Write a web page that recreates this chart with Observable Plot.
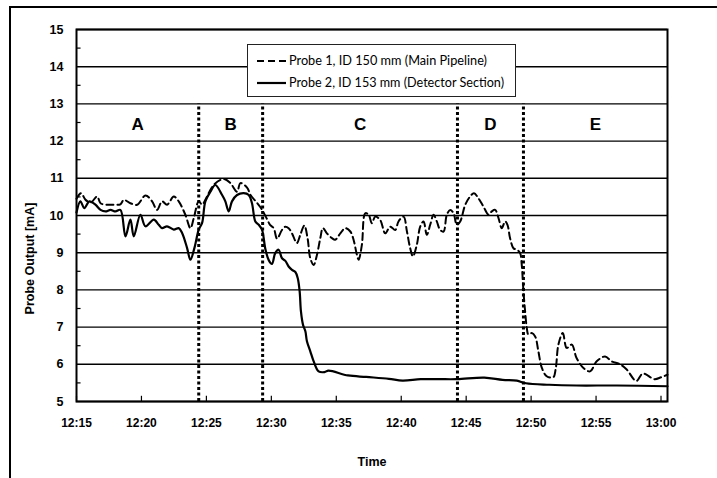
<!DOCTYPE html>
<html>
<head>
<meta charset="utf-8">
<script src="https://cdn.jsdelivr.net/npm/d3@7"></script>
<script src="https://cdn.jsdelivr.net/npm/@observablehq/plot@0.6"></script>
<style>
  html, body { margin: 0; padding: 0; background: #fff; overflow: hidden; }
  #wrap { position: relative; width: 717px; height: 478px; }
  #outer { position: absolute; left: 9px; top: 6px; width: 800px; height: 600px;
           border-top: 2.5px solid #000; border-left: 2.5px solid #000; pointer-events: none; }
  #legend { position: absolute; left: 247px; top: 44px; width: 267px; height: 51px;
            border: 1px solid #222; background: #fff; }
  #legend text { font-family: Lato, "Open Sans", "Liberation Sans", sans-serif; font-size: 12.5px; fill: #000; }
  #chart svg text { font-family: "Liberation Sans", Arial, sans-serif; }
</style>
</head>
<body>
<div id="wrap">
  <div id="chart"></div>
  <div id="outer"></div>
  <div id="legend"></div>
</div>
<script>
// ---- data (minutes after 12:15, probe output in mA) ----
const seriesNames = ["Probe 1, ID 150 mm (Main Pipeline)", "Probe 2, ID 153 mm (Detector Section)"];

const probe1Minutes = [0,0.35,0.7,1.1,1.59,1.85,2.36,2.87,3.38,3.64,4.15,4.67,5.31,5.82,6.2,6.59,6.97,7.49,7.87,8.38,8.77,9.03,9.41,9.67,9.92,10.56,11.33,11.85,12.36,12.62,13.13,13.4,13.8,14.2,14.6,14.9,15.18,15.44,15.82,16.08,16.33,16.59,16.97,17.23,17.54,17.79,18.0,18.26,18.51,18.77,18.97,19.28,19.67,19.92,20.31,20.69,21.08,21.33,21.59,21.72,21.97,22.23,22.49,22.74,23.0,23.38,23.77,24.15,24.54,24.79,25.18,25.44,25.69,25.9,26.2,26.46,26.72,26.97,27.23,27.49,27.74,28.0,28.26,28.51,28.77,29.03,29.28,29.54,29.92,30.3,30.6,30.95,31.33,31.72,31.97,32.23,32.49,32.74,33.0,33.18,33.38,33.64,33.9,34.15,34.28,34.41,34.54,34.67,34.79,35.05,35.31,35.56,35.82,36.2,36.7,36.9,37.1,37.44,37.74,38.13,38.5,39.03,39.54,40.05,40.69,41.2,41.85,42.36,43.1,43.6,44.5,45.0,45.5];
const probe1Values  = [10.45,10.6,10.42,10.35,10.51,10.33,10.29,10.29,10.3,10.42,10.33,10.29,10.54,10.38,10.15,10.38,10.29,10.51,10.38,10.02,9.66,9.93,10.38,10.29,10.42,10.82,10.98,10.87,10.64,10.87,10.75,10.55,10.38,10.2,9.95,9.75,9.66,9.38,9.61,9.7,9.66,9.52,9.26,9.48,9.73,9.39,8.85,8.67,8.94,9.39,9.66,9.52,9.39,9.35,9.52,9.66,9.57,9.35,8.94,8.81,9.21,10.06,10.02,9.79,9.97,9.88,9.52,9.7,9.61,9.84,9.97,9.57,9.12,8.9,9.21,9.7,9.84,9.48,9.75,10.02,9.84,9.61,9.57,10.02,10.15,10.06,9.75,9.84,10.28,10.51,10.6,10.46,10.24,10.02,10.11,10.15,9.93,9.66,9.84,9.75,9.39,9.12,9.08,8.99,8.67,7.96,7.42,6.97,6.8,6.84,6.75,6.35,5.91,5.68,5.65,5.9,6.53,6.84,6.44,6.53,6.17,5.9,5.81,6.08,6.21,6.08,6.0,5.86,5.55,5.75,5.6,5.65,5.72];

const probe2Minutes = [0,0.3,0.6,1.0,1.46,1.85,2.23,2.62,3.0,3.38,3.77,4.15,4.41,4.92,5.31,5.95,6.33,6.59,6.97,7.49,7.87,8.13,8.51,8.77,9.08,9.41,9.67,9.92,10.31,10.69,11.21,11.46,11.72,11.97,12.36,12.87,13.26,13.51,13.77,14.03,14.28,14.54,14.8,15.05,15.3,15.56,15.82,16.08,16.33,16.59,16.85,17.03,17.18,17.28,17.44,17.62,17.74,18.0,18.26,18.64,19.1,19.4,20.9,22.3,24.05,25.1,26.5,27.9,29.3,31.4,32.8,33.9,34.6,36.4,38.5,41.6,45.5];
const probe2Values  = [10.08,10.38,10.2,10.38,10.29,10.15,10.11,10.15,10.11,10.15,9.44,9.89,9.44,10.02,9.71,9.89,9.75,9.66,9.71,9.62,9.66,9.53,9.13,8.81,9.13,9.62,9.8,10.38,10.64,10.82,10.55,10.38,10.11,10.38,10.55,10.6,10.55,10.33,9.84,9.75,9.62,9.1,8.8,8.7,8.99,9.08,8.85,8.78,8.63,8.54,8.48,8.32,7.96,7.42,7.06,6.89,6.62,6.35,6.08,5.81,5.79,5.83,5.7,5.66,5.61,5.56,5.6,5.6,5.6,5.64,5.58,5.56,5.49,5.45,5.43,5.43,5.41];

const regionLabels = ["A", "B", "C", "D", "E"];
const regionBoundaries = [9.41, 14.33, 29.33, 34.41];   // minutes after 12:15
const xTickMinutes = [0, 5, 10, 15, 20, 25, 30, 35, 40, 45];
const yTickValues = [5, 6, 7, 8, 9, 10, 11, 12, 13, 14, 15];
const domainEndMinutes = 45.5;

// ---- build ----
const T0 = Date.UTC(2000, 0, 1, 12, 15);
const toDate = m => new Date(T0 + m * 60000);
const p1 = probe1Minutes.map((m, i) => ({time: toDate(m), value: probe1Values[i]}));
const p2 = probe2Minutes.map((m, i) => ({time: toDate(m), value: probe2Values[i]}));
const edges = [0, ...regionBoundaries, domainEndMinutes];
const regions = regionLabels.map((l, i) => ({label: l, time: toDate((edges[i] + edges[i + 1]) / 2)}));
const xTicks = xTickMinutes.map(toDate);
const halfTicks = yTickValues.slice(0, -1).map(v => v + 0.5);
const fmt = d3.utcFormat("%H:%M");

const chart = Plot.plot({
  width: 717,
  height: 478,
  marginLeft: 76,
  marginRight: 50,
  marginTop: 29,
  marginBottom: 77,
  style: {fontFamily: "'Liberation Sans', Arial, sans-serif", fontSize: "12px", background: "#fff", color: "#000"},
  x: {type: "utc", domain: [toDate(0), toDate(domainEndMinutes)]},
  y: {domain: [5, 15]},
  marks: [
    Plot.gridY(yTickValues, {stroke: "#000", strokeOpacity: 1, strokeWidth: 1.4}),
    Plot.ruleY(halfTicks, {x1: toDate(0), x2: toDate(0.35), stroke: "#000", strokeWidth: 1.2}),
    Plot.ruleX(xTicks, {y1: 5, y2: 5.14, stroke: "#000", strokeWidth: 1.2}),
    Plot.ruleX(regionBoundaries.map(toDate), {y1: 5, y2: 13, stroke: "#000", strokeWidth: 3, strokeDasharray: "3,2.5"}),
    Plot.text(regions, {x: "time", y: () => 12.45, text: "label", fontSize: 17, fontWeight: "bold", fill: "#000"}),
    Plot.line(p1, {x: "time", y: "value", stroke: "#000", strokeWidth: 2, strokeDasharray: "7,4", curve: "catmull-rom"}),
    Plot.line(p2, {x: "time", y: "value", stroke: "#000", strokeWidth: 2.2, curve: "catmull-rom"}),
    Plot.frame({stroke: "#000", strokeWidth: 2}),
    Plot.axisX(xTicks, {tickSize: 0, tickPadding: 17, tickFormat: fmt, fontWeight: "bold", fontSize: 12, label: null}),
    Plot.axisY(yTickValues, {tickSize: 0, tickPadding: 13, fontWeight: "bold", fontSize: 12.5, label: null}),
    Plot.text(["Probe Output [mA]"], {frameAnchor: "left", textAnchor: "middle", rotate: -90, dx: -47, dy: 43, fontWeight: "bold", fontSize: 12.5, fill: "#000"}),
    Plot.text(["Time"], {frameAnchor: "bottom", dy: 64, fontWeight: "bold", fontSize: 12.5, fill: "#000"})
  ]
});
document.getElementById("chart").appendChild(chart);

// ---- legend ----
const lg = d3.select("#legend").append("svg").attr("width", 267).attr("height", 51);
const dashes = ["7,4", null];
const widths = [198, 215];
seriesNames.forEach((name, i) => {
  const y = 16 + i * 22;
  const ln = lg.append("line").attr("x1", 9).attr("x2", 38).attr("y1", y).attr("y2", y)
    .attr("stroke", "#000").attr("stroke-width", 2.2);
  if (dashes[i]) ln.attr("stroke-dasharray", dashes[i]);
  lg.append("text").attr("x", 41).attr("y", y).attr("dy", "0.35em")
    .attr("textLength", widths[i]).attr("lengthAdjust", "spacingAndGlyphs").text(name);
});
</script>
</body>
</html>
